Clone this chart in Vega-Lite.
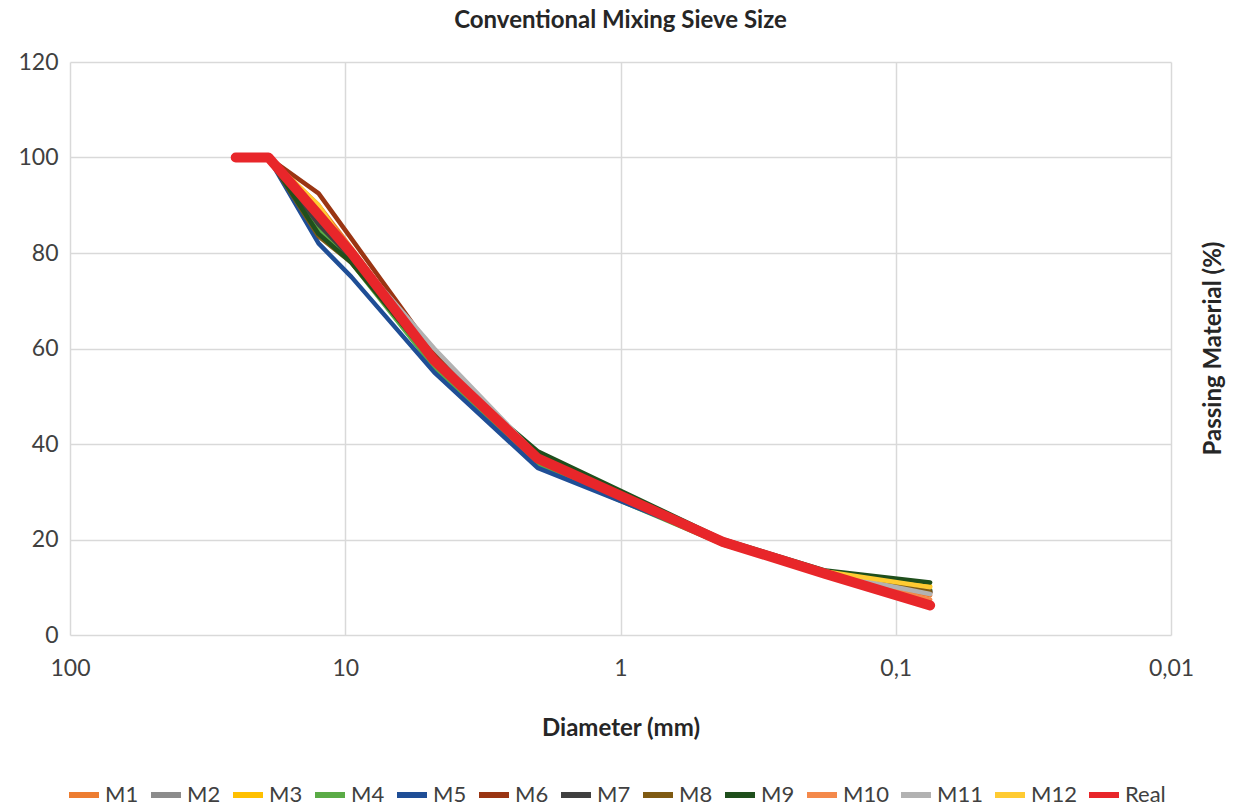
{
  "$schema": "https://vega.github.io/schema/vega-lite/v6.json",
  "width": 1101,
  "height": 573,
  "autosize": "none",
  "padding": {"left": 70, "top": 62, "right": 63, "bottom": 174},
  "background": "white",
  "title": {"text": "Conventional Mixing Sieve Size", "font": "Lato", "fontSize": 24, "fontWeight": "bold", "color": "#262626", "offset": 18, "anchor": "middle"},
  "datasets": {
    "curves": [
      {"series": "M1", "d": 25, "p": 100}, {"series": "M1", "d": 19, "p": 100}, {"series": "M1", "d": 12.5, "p": 90}, {"series": "M1", "d": 9.5, "p": 81}, {"series": "M1", "d": 4.75, "p": 58}, {"series": "M1", "d": 2, "p": 37}, {"series": "M1", "d": 0.425, "p": 19.5}, {"series": "M1", "d": 0.18, "p": 13}, {"series": "M1", "d": 0.075, "p": 8.3},
      {"series": "M2", "d": 25, "p": 100}, {"series": "M2", "d": 19, "p": 100}, {"series": "M2", "d": 12.5, "p": 87}, {"series": "M2", "d": 9.5, "p": 80}, {"series": "M2", "d": 4.75, "p": 59}, {"series": "M2", "d": 2, "p": 37}, {"series": "M2", "d": 0.425, "p": 19.5}, {"series": "M2", "d": 0.18, "p": 13}, {"series": "M2", "d": 0.075, "p": 9.3},
      {"series": "M3", "d": 25, "p": 100}, {"series": "M3", "d": 19, "p": 100}, {"series": "M3", "d": 12.5, "p": 89}, {"series": "M3", "d": 9.5, "p": 79}, {"series": "M3", "d": 4.75, "p": 56}, {"series": "M3", "d": 2, "p": 36}, {"series": "M3", "d": 0.425, "p": 19}, {"series": "M3", "d": 0.18, "p": 12.8}, {"series": "M3", "d": 0.075, "p": 10.2},
      {"series": "M4", "d": 25, "p": 100}, {"series": "M4", "d": 19, "p": 100}, {"series": "M4", "d": 12.5, "p": 85}, {"series": "M4", "d": 9.5, "p": 78}, {"series": "M4", "d": 4.75, "p": 56}, {"series": "M4", "d": 2, "p": 35.5}, {"series": "M4", "d": 0.425, "p": 19}, {"series": "M4", "d": 0.18, "p": 12.7}, {"series": "M4", "d": 0.075, "p": 9.5},
      {"series": "M5", "d": 25, "p": 100}, {"series": "M5", "d": 19, "p": 100}, {"series": "M5", "d": 12.5, "p": 82}, {"series": "M5", "d": 9.5, "p": 75}, {"series": "M5", "d": 4.75, "p": 55}, {"series": "M5", "d": 2, "p": 35}, {"series": "M5", "d": 0.425, "p": 19.5}, {"series": "M5", "d": 0.18, "p": 12.8}, {"series": "M5", "d": 0.075, "p": 9},
      {"series": "M6", "d": 25, "p": 100}, {"series": "M6", "d": 19, "p": 100}, {"series": "M6", "d": 12.5, "p": 92.5}, {"series": "M6", "d": 9.5, "p": 83}, {"series": "M6", "d": 4.75, "p": 59}, {"series": "M6", "d": 2, "p": 37.5}, {"series": "M6", "d": 0.425, "p": 19.8}, {"series": "M6", "d": 0.18, "p": 13}, {"series": "M6", "d": 0.075, "p": 8.8},
      {"series": "M7", "d": 25, "p": 100}, {"series": "M7", "d": 19, "p": 100}, {"series": "M7", "d": 12.5, "p": 86}, {"series": "M7", "d": 9.5, "p": 79}, {"series": "M7", "d": 4.75, "p": 58}, {"series": "M7", "d": 2, "p": 37}, {"series": "M7", "d": 0.425, "p": 19.5}, {"series": "M7", "d": 0.18, "p": 13}, {"series": "M7", "d": 0.075, "p": 9.2},
      {"series": "M8", "d": 25, "p": 100}, {"series": "M8", "d": 19, "p": 100}, {"series": "M8", "d": 12.5, "p": 83.5}, {"series": "M8", "d": 9.5, "p": 78}, {"series": "M8", "d": 4.75, "p": 57}, {"series": "M8", "d": 2, "p": 36.5}, {"series": "M8", "d": 0.425, "p": 19.3}, {"series": "M8", "d": 0.18, "p": 12.9}, {"series": "M8", "d": 0.075, "p": 9},
      {"series": "M9", "d": 25, "p": 100}, {"series": "M9", "d": 19, "p": 100}, {"series": "M9", "d": 12.5, "p": 84}, {"series": "M9", "d": 9.5, "p": 78}, {"series": "M9", "d": 4.75, "p": 57}, {"series": "M9", "d": 2, "p": 38.5}, {"series": "M9", "d": 0.425, "p": 20}, {"series": "M9", "d": 0.18, "p": 13.5}, {"series": "M9", "d": 0.075, "p": 11},
      {"series": "M10", "d": 25, "p": 100}, {"series": "M10", "d": 19, "p": 100}, {"series": "M10", "d": 12.5, "p": 89}, {"series": "M10", "d": 9.5, "p": 80}, {"series": "M10", "d": 4.75, "p": 58}, {"series": "M10", "d": 2, "p": 37}, {"series": "M10", "d": 0.425, "p": 19.5}, {"series": "M10", "d": 0.18, "p": 12.8}, {"series": "M10", "d": 0.075, "p": 7.4},
      {"series": "M11", "d": 25, "p": 100}, {"series": "M11", "d": 19, "p": 100}, {"series": "M11", "d": 12.5, "p": 88}, {"series": "M11", "d": 9.5, "p": 80}, {"series": "M11", "d": 4.75, "p": 60}, {"series": "M11", "d": 2, "p": 37.5}, {"series": "M11", "d": 0.425, "p": 19.5}, {"series": "M11", "d": 0.18, "p": 13}, {"series": "M11", "d": 0.075, "p": 8.6},
      {"series": "M12", "d": 25, "p": 100}, {"series": "M12", "d": 19, "p": 100}, {"series": "M12", "d": 12.5, "p": 90}, {"series": "M12", "d": 9.5, "p": 80}, {"series": "M12", "d": 4.75, "p": 57}, {"series": "M12", "d": 2, "p": 36.5}, {"series": "M12", "d": 0.425, "p": 19.3}, {"series": "M12", "d": 0.18, "p": 13.3}, {"series": "M12", "d": 0.075, "p": 10},
      {"series": "Real", "d": 25, "p": 100}, {"series": "Real", "d": 19, "p": 100}, {"series": "Real", "d": 12.5, "p": 88}, {"series": "Real", "d": 9.5, "p": 80}, {"series": "Real", "d": 4.75, "p": 57.5}, {"series": "Real", "d": 2, "p": 37}, {"series": "Real", "d": 0.425, "p": 19.5}, {"series": "Real", "d": 0.18, "p": 12.8}, {"series": "Real", "d": 0.075, "p": 6.2}
    ]
  },
  "data": {"name": "curves"},
  "mark": {"type": "line", "strokeCap": "round", "strokeJoin": "round"},
  "encoding": {
    "x": {
      "field": "d", "type": "quantitative",
      "scale": {"type": "log", "domain": [0.01, 100], "reverse": true, "nice": false},
      "axis": {
        "values": [100, 10, 1, 0.1, 0.01],
        "labelExpr": "replace(format(datum.value, ''), '.', ',')",
        "labelFlush": false, "labelOverlap": false,
        "title": "Diameter (mm)",
        "titleFont": "Lato", "titleFontSize": 24, "titleFontWeight": "bold", "titleColor": "#262626", "titlePadding": 36,
        "labelFont": "Lato", "labelFontSize": 23, "labelColor": "#404040", "labelPadding": 22,
        "domain": false, "ticks": false, "grid": true, "gridColor": "#d9d9d9", "gridWidth": 1.5
      }
    },
    "y": {
      "field": "p", "type": "quantitative",
      "scale": {"domain": [0, 120], "nice": false},
      "axis": {
        "values": [0, 20, 40, 60, 80, 100, 120],
        "labelFlush": false,
        "title": "Passing Material (%)",
        "titleFont": "Lato", "titleFontSize": 24, "titleFontWeight": "bold", "titleColor": "#262626",
        "titleX": 1143, "titleY": 286, "titleAngle": -90, "titleAlign": "center", "titleBaseline": "middle",
        "labelFont": "Lato", "labelFontSize": 23, "labelColor": "#404040", "labelPadding": 12,
        "domain": false, "ticks": false, "grid": true, "gridColor": "#d9d9d9", "gridWidth": 1.5
      }
    },
    "color": {
      "field": "series", "type": "nominal",
      "scale": {
        "domain": ["M1", "M2", "M3", "M4", "M5", "M6", "M7", "M8", "M9", "M10", "M11", "M12", "Real"],
        "range": ["#ed7d31", "#8c8c8c", "#ffc000", "#5aab46", "#1f4e96", "#9a3513", "#404040", "#7f5a12", "#1f4f1c", "#f4894b", "#b2b2b2", "#ffcb32", "#e8262a"]
      },
      "legend": {
        "orient": "none", "legendX": -4, "legendY": 715, "direction": "horizontal", "columns": 13,
        "title": null, "symbolType": "stroke", "symbolSize": 900, "symbolStrokeWidth": 6,
        "labelFont": "Lato", "labelFontSize": 22, "labelColor": "#404040", "labelOffset": 3,
        "columnPadding": 0
      }
    },
    "strokeWidth": {"condition": {"test": "datum.series === 'Real'", "value": 10}, "value": 4.5}
  },
  "config": {"view": {"stroke": null}}
}
